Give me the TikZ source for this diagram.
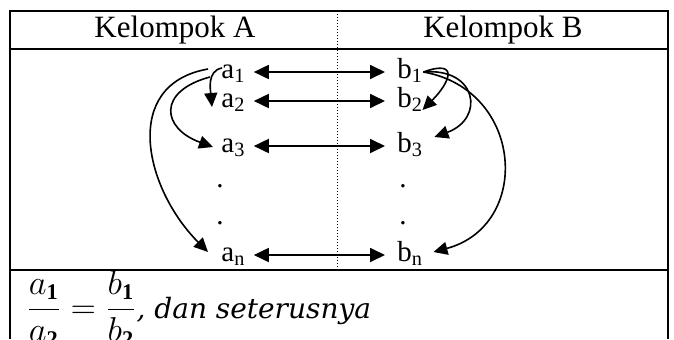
\documentclass[tikz,border=0pt]{standalone}
\usepackage{amsmath}
\usepackage{fontspec}
\setmainfont{Liberation Serif}
\newfontfamily\eqfont{DejaVu Serif}
\usetikzlibrary{arrows.meta}

\begin{document}
\begin{tikzpicture}[x=0.5pt,y=-0.5pt,
    item/.style={inner sep=0pt,anchor=west,text height=6pt,text depth=0pt,font=\fontsize{14.5}{16}\selectfont},
    head/.style={inner sep=0pt,font=\fontsize{15.5}{18}\selectfont},
    rule/.style={line width=1pt},
    pair/.style={line width=0.9pt,{Triangle[length=7.5pt,width=7pt]}-{Triangle[length=7.5pt,width=7pt]}},
    link/.style={line width=0.8pt,-{Triangle[length=7pt,width=6.5pt]}}]
  \useasboundingbox (0,0) rectangle (674,339);
  \begin{scope}
    \clip (0,0) rectangle (674,339);

    \draw[rule] (10,339) -- (10,11) -- (668,11) -- (668,339);
    \draw[rule] (10,49) -- (668,49);
    \draw[rule] (10,270) -- (668,270);
    \draw[densely dotted,line width=0.5pt] (337,11) -- (337,270);

    \node[head] (hA) at (175,30) {Kelompok A};
    \node[head] (hB) at (503,30) {Kelompok B};

    \node[item] (a1) at (221,72) {a\textsubscript{1}};
    \node[item] (a2) at (221,101) {a\textsubscript{2}};
    \node[item] (a3) at (221,146) {a\textsubscript{3}};
    \node[item] (ad1) at (216,181) {.};
    \node[item] (ad2) at (216,218) {.};
    \node[item] (an) at (221,255) {a\textsubscript{n}};

    \node[item] (b1) at (397,72) {b\textsubscript{1}};
    \node[item] (b2) at (397,101) {b\textsubscript{2}};
    \node[item] (b3) at (397,146) {b\textsubscript{3}};
    \node[item] (bd1) at (399,181) {.};
    \node[item] (bd2) at (399,218) {.};
    \node[item] (bn) at (397,255) {b\textsubscript{n}};

    \foreach \i in {1,2,3,n}
      \draw[pair] ([xshift=4pt]a\i.east) -- ([xshift=-6pt]b\i.west);

    \draw[link] ([shift={(0.5pt,2pt)}]a1.west) to[out=190,in=95] ([shift={(-4.5pt,-3pt)}]a2.west);
    \draw[link] ([shift={(-5.5pt,-2.5pt)}]a1.west) to[out=195,in=160,looseness=2] ([shift={(-4pt,-0.5pt)}]a3.west);
    \draw[link] ([shift={(-6.5pt,1.5pt)}]a1.west) to[out=190,in=135,looseness=1.25] ([shift={(-6.5pt,1.5pt)}]an.west);

    \draw[link] ([xshift=0pt]b1.east) to[out=20,in=45,looseness=2.6] ([shift={(-0.5pt,-4.5pt)}]b2.east);
    \draw[link] ([xshift=0pt]b1.east) to[out=5,in=20,looseness=2.1] ([shift={(5.5pt,4.5pt)}]b3.east);
    \draw[link] ([xshift=0pt]b1.east) to[out=-10,in=15,looseness=1.45] ([shift={(5pt,1.5pt)}]bn.east);

    \node[inner sep=0pt,anchor=base west,font=\fontsize{16}{19}\selectfont] (eq) at (26,318)
      {$\dfrac{a_{\mathbf{1}}}{a_{\mathbf{2}}}= \dfrac{b_{\mathbf{1}}}{b_{\mathbf{2}}}${\eqfont\itshape\fontsize{14}{17}\selectfont, dan seterusnya}};
  \end{scope}
\end{tikzpicture}
\end{document}
